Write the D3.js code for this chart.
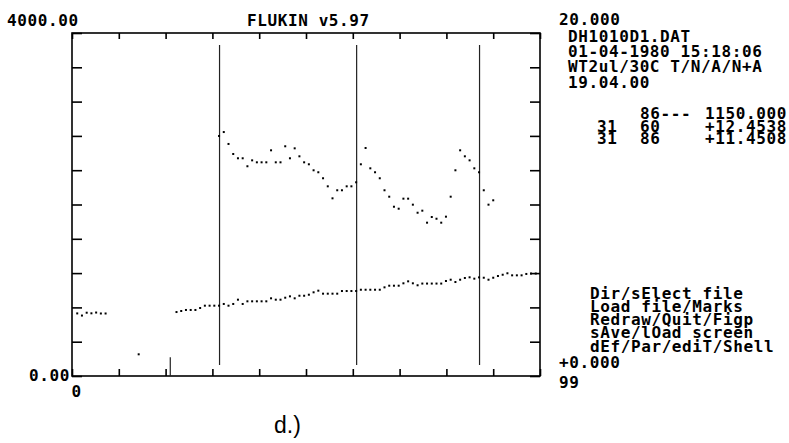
<!DOCTYPE html>
<html><head><meta charset="utf-8">
<script src="https://cdn.jsdelivr.net/npm/d3@7"></script>
<style>
html,body{margin:0;padding:0;background:#fff;}
svg{display:block;}
.mono{font-family:"DejaVu Sans Mono","Liberation Mono",monospace;font-weight:bold;font-size:16px;letter-spacing:0.6px;fill:#000;}
.cap{font-family:"Liberation Sans",Arial,sans-serif;font-size:23px;fill:#000;}
</style></head><body>
<svg id="c" width="789" height="443"></svg>
<script>
// ---- data ----
const xDomain = [0, 99];
const yDomain = [0, 4000];
const yLabelTop = "4000.00";
const yLabelBottom = "0.00";
const xLabelLeft = "0";
const xLabelRight = "99";
const title = "FLUKIN v5.97";

const upperIdx = [31,32,33,34,35,36,37,38,39,40,41,42,43,44,45,46,47,48,49,50,
  51,52,53,54,55,56,57,58,59,60,61,62,63,64,65,66,67,68,69,70,
  71,72,73,74,75,76,77,78,79,80,81,82,83,84,85,86,87,88,89];
const upperVal = [2799,2845,2706,2589,2539,2539,2446,2515,2492,2492,2492,2632,2492,2492,2679,2539,2655,2562,2492,2469,
  2399,2376,2306,2212,2072,2166,2166,2212,2212,2259,2469,2659,2422,2376,2306,2166,2091,1974,1951,2068,
  2068,1998,1904,1928,1788,1854,1834,1788,1858,2091,2399,2632,2562,2515,2422,2376,2166,1998,2049];

const lowerIdx = [1,2,3,4,5,6,7,14,22,23,24,25,26,27,28,29,30,31,32,33,34,35,36,37,38,39,40,
  41,42,43,44,45,46,47,48,49,50,51,52,53,54,55,56,57,58,59,60,61,62,63,64,65,66,67,68,69,70,
  71,72,73,74,75,76,77,78,79,80,81,82,83,84,85,86,87,88,89,90,91,92,93,94,95,96,97,98];
const lowerVal = [730,705,738,731,740,729,729,253,746,758,770,770,770,793,820,820,820,820,840,820,840,890,840,871,871,871,871,
  871,906,890,890,913,929,906,936,936,948,976,995,960,960,960,960,991,991,991,991,1006,1006,1006,1006,1006,1034,1053,1053,1053,1081,
  1104,1081,1058,1078,1078,1078,1078,1078,1108,1123,1096,1123,1143,1151,1135,1150,1146,1123,1146,1166,1181,1198,1174,1174,1174,1190,1195,1195];

const spikeIdx = [21];
const spikeVal = [220];

const markIdx = [31, 60, 86];

const infoLines = ["20.000", "DH1010D1.DAT", "01-04-1980 15:18:06", "WT2ul/30C T/N/A/N+A", "19.04.00"];
const cursorRows = [["", "86---", "1150.000"], ["31", "60", "+12.4538"], ["31", "86", "+11.4508"]];
const menuLines = ["Dir/sElect file", "Load file/Marks", "Redraw/Quit/Figp", "sAve/lOad screen", "dEf/Par/ediT/Shell"];
const bottomRight = "+0.000";
const caption = "d.)";

// ---- drawing ----
const svg = d3.select("#c");
const L = 72, R = 540, T = 33, B = 376;
const x = d3.scaleLinear().domain(xDomain).range([L, R]);
const y = d3.scaleLinear().domain(yDomain).range([B, T]);

const xTickVals = d3.range(11).map(k => xDomain[0] + k * (xDomain[1] - xDomain[0]) / 10);
const yTickVals = d3.range(11).map(k => yDomain[0] + k * (yDomain[1] - yDomain[0]) / 10);

function styleAxis(g) {
  g.select(".domain").remove();
  g.selectAll("text").remove();
  g.selectAll("line").attr("stroke", "#000").attr("stroke-width", 1.6);
}
svg.append("g").attr("transform", `translate(0,${T})`)
  .call(d3.axisTop(x).tickValues(xTickVals).tickSize(-6)).call(styleAxis);
svg.append("g").attr("transform", `translate(0,${B})`)
  .call(d3.axisBottom(x).tickValues(xTickVals).tickSize(-7)).call(styleAxis);
svg.append("g").attr("transform", `translate(${L},0)`)
  .call(d3.axisLeft(y).tickValues(yTickVals).tickSize(-10)).call(styleAxis);
svg.append("g").attr("transform", `translate(${R},0)`)
  .call(d3.axisRight(y).tickValues(yTickVals).tickSize(-10)).call(styleAxis);

// frame
svg.append("rect").attr("x", L).attr("y", T).attr("width", R - L).attr("height", B - T)
  .attr("fill", "none").attr("stroke", "#000").attr("stroke-width", 1.6);

// cursor marks
svg.selectAll("line.mark").data(markIdx).enter().append("line").attr("class", "mark")
  .attr("x1", d => x(d) + 1).attr("x2", d => x(d) + 1)
  .attr("y1", 45).attr("y2", 365)
  .attr("stroke", "#222").attr("stroke-width", 1.2);

// spike
svg.selectAll("line.spike").data(spikeIdx.map((d, i) => [d, spikeVal[i]])).enter().append("line").attr("class", "spike")
  .attr("x1", d => x(d[0]) - 1).attr("x2", d => x(d[0]) - 1)
  .attr("y1", d => y(d[1])).attr("y2", y(0))
  .attr("stroke", "#222").attr("stroke-width", 1.2);

function dots(idx, val) {
  svg.append("g").selectAll("rect").data(idx.map((d, i) => [d, val[i]])).enter().append("rect")
    .attr("x", d => x(d[0]) - 0.5).attr("y", d => y(d[1]) - 1)
    .attr("width", 2).attr("height", 2).attr("fill", "#000");
}
dots(upperIdx, upperVal);
dots(lowerIdx, lowerVal);

// texts
function txt(s, tx, ty, anchor) {
  svg.append("text").attr("class", "mono").attr("x", tx).attr("y", ty)
    .attr("text-anchor", anchor || "start").text(s);
}
txt(yLabelTop, 7, 26);
txt(title, 247, 26);
txt(yLabelBottom, 29, 381);
txt(xLabelLeft, 71.5, 397);
txt(bottomRight, 559, 367.5);
txt(xLabelRight, 559, 388);

// info block
const infoY = [25, 41.5, 57, 72, 87.5];
const info = svg.append("text").attr("class", "mono");
infoLines.forEach((s, i) => info.append("tspan").attr("x", i === 0 ? 559 : 568).attr("y", infoY[i]).text(s));

// cursor block
const rowY = [118.5, 131.5, 144];
const cur = svg.append("text").attr("class", "mono");
cursorRows.forEach((r, i) => {
  if (r[0]) cur.append("tspan").attr("x", 597).attr("y", rowY[i]).text(r[0]);
  cur.append("tspan").attr("x", 640).attr("y", rowY[i]).text(r[1]);
  cur.append("tspan").attr("x", 705).attr("y", rowY[i]).text(r[2]);
});

// menu block
const menuY = [298.5, 311.5, 325, 338, 351.5];
const menu = svg.append("text").attr("class", "mono");
menuLines.forEach((s, i) => menu.append("tspan").attr("x", 590).attr("y", menuY[i]).text(s));

svg.append("text").attr("class", "cap").attr("x", 274).attr("y", 433).text(caption);
</script>
</body></html>
